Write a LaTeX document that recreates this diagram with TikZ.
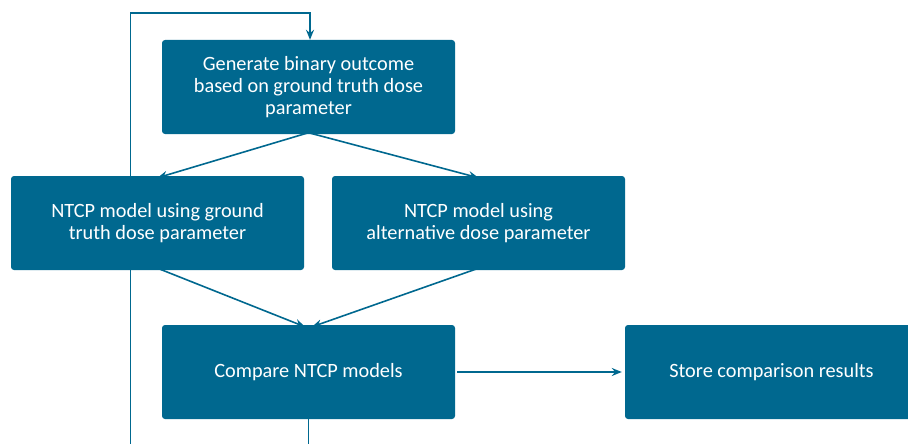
\documentclass[tikz,border=0pt]{standalone}
\usepackage{fontspec}
\setmainfont{Carlito}
\usetikzlibrary{arrows.meta,backgrounds}
\definecolor{teal}{RGB}{0,104,143}
\tikzset{
  box/.style={fill=teal, text=white, rounded corners=3pt, minimum width=293pt, minimum height=94pt, align=center, inner sep=0pt, font=\fontsize{20.3}{22}\selectfont},
  conn/.style={draw=teal, line width=1.6pt, -{Stealth[length=10pt,width=8pt]}},
}
\begin{document}
\begin{tikzpicture}[x=1pt,y=-1pt]
\useasboundingbox (0,0) rectangle (908,444);
\clip (0,0) rectangle (908,444);
\node[box] (top) at (308.5,87) {Generate binary outcome\\based on ground truth dose\\parameter};
\node[box] (left) at (157.5,223) {NTCP model using ground\\truth dose parameter};
\node[box] (right) at (478.5,223) {NTCP model using\\alternative dose parameter};
\node[box] (compare) at (308.5,372) {Compare NTCP models};
\node[box] (store) at (771.5,372) {Store comparison results};
\coordinate (loopbottom) at (308.5,470);
\coordinate (loopleft) at (130.5,13);
\begin{pgfonlayer}{background}
\draw[conn] (compare.south) -- (loopbottom) -| (loopleft) -| ([xshift=1.5pt]top.north);
\end{pgfonlayer}
\draw[conn] ([yshift=1.5pt]top.south) -- ([yshift=-2pt]left.north);
\draw[conn] ([yshift=1.5pt]top.south) -- ([yshift=-2pt]right.north);
\draw[conn] ([yshift=2pt]left.south) -- ([xshift=-3.5pt,yshift=-2pt]compare.north);
\draw[conn] ([yshift=2pt]right.south) -- ([xshift=3.5pt,yshift=-2pt]compare.north);
\draw[conn] ([xshift=2pt]compare.east) -- ([xshift=-3pt]store.west);
\end{tikzpicture}
\end{document}
